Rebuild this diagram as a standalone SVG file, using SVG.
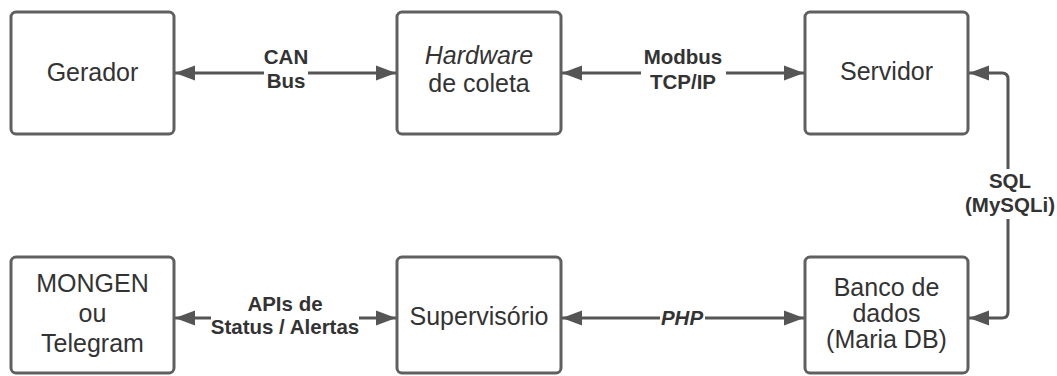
<svg xmlns="http://www.w3.org/2000/svg" width="1057" height="376" viewBox="0 0 1057 376">
  <defs>
    <marker id="arrow" markerUnits="userSpaceOnUse" markerWidth="22" markerHeight="18" viewBox="0 0 22 18" refX="21" refY="9" orient="auto-start-reverse">
      <path d="M1,1.5 L21,9 L1,16.5 Z" fill="#555555"/>
    </marker>
  </defs>
  <style>
    .box { fill: #ffffff; stroke: #606060; stroke-width: 3; }
    .node-text { font-family: "Liberation Sans", Arial, sans-serif; font-size: 25px; fill: #333333; text-anchor: middle; }
    .line { fill: none; stroke: #555555; stroke-width: 3; marker-start: url(#arrow); marker-end: url(#arrow); }
    .label-bg { fill: #ffffff; }
    .label { font-family: "Liberation Sans", Arial, sans-serif; font-size: 20.5px; font-weight: bold; fill: #333333; text-anchor: middle; }
  </style>

  <rect width="1057" height="376" fill="#ffffff"/>

  <!-- connectors -->
  <g id="connectors">
    <path class="line" d="M175,73 H396"/>
    <path class="line" d="M562,73 H804"/>
    <path class="line" d="M969,73 H1002 Q1008,73 1008,79 V312 Q1008,318 1002,318 H969"/>
    <path class="line" d="M175,318 H396"/>
    <path class="line" d="M562,318 H804"/>

    <rect class="label-bg" x="264" y="46" width="44" height="46"/>
    <text class="label" x="286" y="64">CAN</text>
    <text class="label" x="286" y="88">Bus</text>

    <rect class="label-bg" x="641" y="46" width="85" height="48"/>
    <text class="label" x="683" y="64">Modbus</text>
    <text class="label" x="683" y="89">TCP/IP</text>

    <rect class="label-bg" x="964" y="169" width="92" height="50"/>
    <text class="label" x="1010" y="188">SQL</text>
    <text class="label" x="1010" y="212">(MySQLi)</text>

    <rect class="label-bg" x="211" y="294" width="148" height="44"/>
    <text class="label" x="285" y="311">APIs de</text>
    <text class="label" x="285" y="334">Status / Alertas</text>

    <rect class="label-bg" x="660" y="306" width="45" height="24"/>
    <text class="label" x="682" y="325" font-style="italic">PHP</text>
  </g>

  <!-- nodes -->
  <g id="gerador">
    <rect class="box" x="11" y="12" width="163" height="122" rx="5"/>
    <text class="node-text" x="92.5" y="81">Gerador</text>
  </g>

  <g id="hardware">
    <rect class="box" x="397" y="12" width="164" height="122" rx="5"/>
    <text class="node-text" x="479" y="64" font-style="italic">Hardware</text>
    <text class="node-text" x="479" y="92">de coleta</text>
  </g>

  <g id="servidor">
    <rect class="box" x="805" y="12" width="163" height="122" rx="5"/>
    <text class="node-text" x="886.5" y="80">Servidor</text>
  </g>

  <g id="mongen">
    <rect class="box" x="11" y="257" width="163" height="116" rx="5"/>
    <text class="node-text" x="92.5" y="292">MONGEN</text>
    <text class="node-text" x="92.5" y="322">ou</text>
    <text class="node-text" x="92.5" y="352">Telegram</text>
  </g>

  <g id="supervisorio">
    <rect class="box" x="397" y="257" width="164" height="116" rx="5"/>
    <text class="node-text" x="479" y="325" font-size="29">Supervisório</text>
  </g>

  <g id="banco">
    <rect class="box" x="805" y="257" width="163" height="116" rx="5"/>
    <text class="node-text" x="886.5" y="296" font-size="20.5">Banco de</text>
    <text class="node-text" x="886.5" y="322" font-size="20.5">dados</text>
    <text class="node-text" x="886.5" y="348" font-size="20.5">(Maria DB)</text>
  </g>
</svg>
